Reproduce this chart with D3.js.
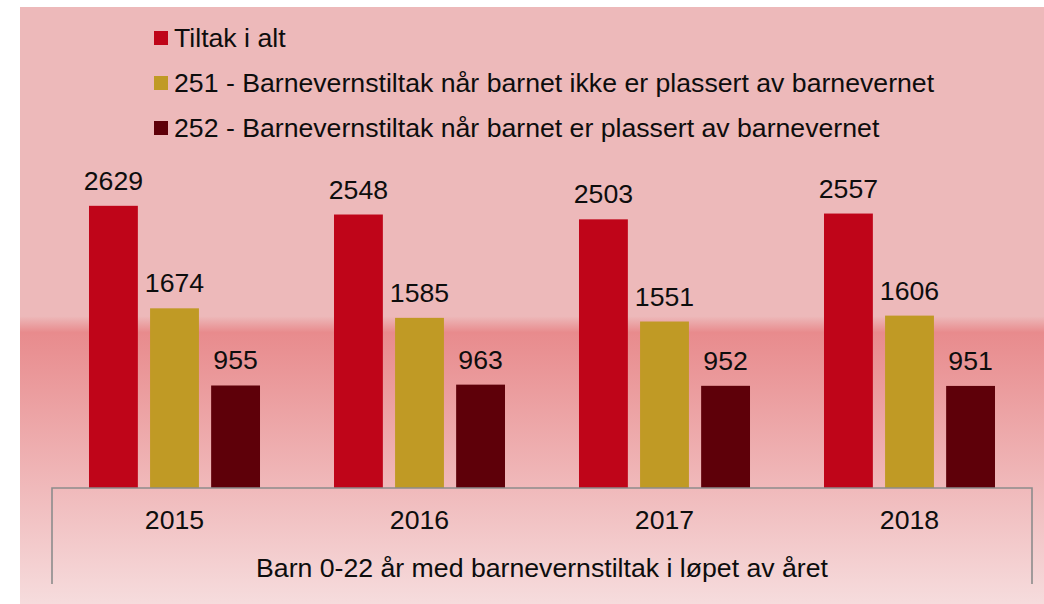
<!DOCTYPE html>
<html>
<head>
<meta charset="utf-8">
<script src="https://cdn.jsdelivr.net/npm/d3@7"></script>
<style>
  html, body { margin: 0; padding: 0; background: #fff; }
  svg { display: block; font-family: "Liberation Sans", Arial, sans-serif; }
</style>
</head>
<body>
<div id="chart"></div>
<script>
// data
const years = ["2015", "2016", "2017", "2018"];
const seriesNames = [
  "Tiltak i alt",
  "251 - Barnevernstiltak når barnet ikke er plassert av barnevernet",
  "252 - Barnevernstiltak når barnet er plassert av barnevernet"
];
const tiltakIAlt = [2629, 2548, 2503, 2557];
const ikkePlassert = [1674, 1585, 1551, 1606];
const plassert = [955, 963, 952, 951];
const axisTitle = "Barn 0-22 år med barnevernstiltak i løpet av året";

const colors = ["#bf0519", "#c09a25", "#5e0009"];
const seriesValues = [tiltakIAlt, ikkePlassert, plassert];

(function () {
  const W = 1044, H = 604;
  const FS = "26.67px";
  const svg = d3.select("#chart").append("svg")
    .attr("width", W).attr("height", H);

  // background gradient (chart area)
  const defs = svg.append("defs");
  const grad = defs.append("linearGradient").attr("id", "bg")
    .attr("x1", 0).attr("y1", 0).attr("x2", 0).attr("y2", 1);
  grad.append("stop").attr("offset", "0%").attr("stop-color", "#edb9ba");
  grad.append("stop").attr("offset", "51.8%").attr("stop-color", "#edb9ba");
  grad.append("stop").attr("offset", "54.5%").attr("stop-color", "#e88b8d");
  grad.append("stop").attr("offset", "100%").attr("stop-color", "#f6dcdd");
  svg.append("rect").attr("x", 20).attr("y", 7)
    .attr("width", W - 20).attr("height", H - 7).attr("fill", "url(#bg)");

  const left = 52, right = 1032, base = 488, top = 166;

  const x0 = d3.scaleBand().domain(years).range([left, right])
    .paddingInner(0.302).paddingOuter(0.151);
  const x1 = d3.scaleBand().domain(d3.range(seriesNames.length))
    .range([0, x0.bandwidth()]).paddingInner(0.2).paddingOuter(0);
  const y = d3.scaleLinear().domain([0, 3000]).range([base, top]);

  const rows = [];
  years.forEach((yr, i) => {
    seriesValues.forEach((vals, s) => rows.push({ year: yr, s: s, v: vals[i] }));
  });

  const g = svg.append("g");
  g.selectAll("rect.bar").data(rows).enter().append("rect")
    .attr("class", "bar")
    .attr("x", d => x0(d.year) + x1(d.s))
    .attr("width", x1.bandwidth())
    .attr("y", d => y(d.v))
    .attr("height", d => base - y(d.v))
    .attr("fill", d => colors[d.s]);

  g.selectAll("text.lab").data(rows).enter().append("text")
    .attr("class", "lab")
    .attr("x", d => x0(d.year) + x1(d.s) + x1.bandwidth() / 2)
    .attr("y", d => y(d.v) - 16)
    .attr("text-anchor", "middle")
    .style("font-size", FS).style("fill", "#0d0d0d")
    .text(d => d.v);

  // category axis: top line plus side walls
  const axisCol = "#8c8c8c";
  svg.append("path")
    .attr("d", `M${left},584 V${base} H${right} V584`)
    .attr("fill", "none").attr("stroke", axisCol).attr("stroke-width", 1.6);

  svg.append("g").selectAll("text").data(years).enter().append("text")
    .attr("x", d => x0(d) + x0.bandwidth() / 2)
    .attr("y", 529)
    .attr("text-anchor", "middle")
    .style("font-size", FS).style("fill", "#0d0d0d")
    .text(d => d);

  svg.append("text")
    .attr("x", (left + right) / 2).attr("y", 577)
    .attr("text-anchor", "middle")
    .style("font-size", FS).style("fill", "#0d0d0d")
    .text(axisTitle);

  // legend
  const leg = svg.append("g");
  const items = leg.selectAll("g").data(seriesNames).enter().append("g")
    .attr("transform", (d, i) => `translate(154,${31 + i * 45})`);
  items.append("rect").attr("width", 14).attr("height", 14)
    .attr("fill", (d, i) => colors[i]);
  items.append("text").attr("x", 20).attr("y", 16)
    .style("font-size", FS).style("fill", "#0d0d0d")
    .text(d => d);
})();
</script>
</body>
</html>
